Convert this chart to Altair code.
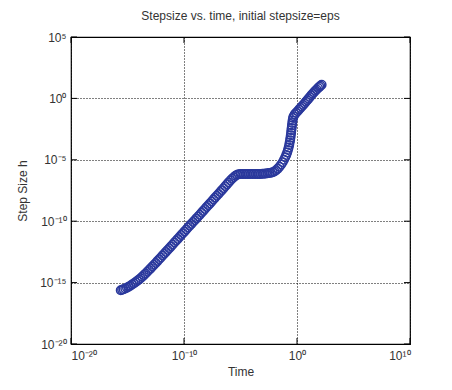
import altair as alt
import pandas as pd

time_exp = [
    -15.6, -15.48, -15.35, -15.2, -15.05, -14.9, -14.75, -14.6, -14.45, -14.3,
    -14.15, -14.0, -13.85, -13.7, -13.55, -13.4, -13.25, -13.1, -12.95, -12.8,
    -12.65, -12.5, -12.35, -12.2, -12.05, -11.9, -11.75, -11.6, -11.45, -11.3,
    -11.15, -11.0, -10.85, -10.7, -10.55, -10.4, -10.25, -10.1, -9.95, -9.8,
    -9.65, -9.5, -9.35, -9.2, -9.05, -8.9, -8.75, -8.6, -8.45, -8.3,
    -8.15, -8.0, -7.85, -7.7, -7.55, -7.4, -7.25, -7.1, -6.95, -6.8,
    -6.65, -6.5, -6.35, -6.2, -6.05, -5.9, -5.75, -5.6, -5.45, -5.3,
    -5.15, -5.0, -4.85, -4.7, -4.55, -4.4, -4.25, -4.1, -3.95, -3.8,
    -3.65, -3.5, -3.35, -3.2, -3.05, -2.9, -2.75, -2.6, -2.45, -2.3,
    -2.15, -2.0, -1.85, -1.7, -1.55, -1.4, -1.27, -1.15, -1.04, -0.95,
    -0.87, -0.8, -0.74, -0.69, -0.65, -0.61, -0.58, -0.55, -0.52, -0.5,
    -0.47, -0.45, -0.42, -0.39, -0.35, -0.3, -0.2, -0.08, 0.05, 0.18,
    0.3, 0.42, 0.54, 0.66, 0.78, 0.9, 1.02, 1.14, 1.26, 1.38,
    1.5, 1.62, 1.74, 1.86, 1.98, 2.08, 2.18,
]
step_exp = [
    -15.62, -15.58, -15.54, -15.48, -15.41, -15.33, -15.25, -15.16, -15.07, -14.97,
    -14.87, -14.76, -14.64, -14.52, -14.39, -14.26, -14.12, -13.98, -13.84, -13.69,
    -13.55, -13.4, -13.25, -13.1, -12.95, -12.8, -12.65, -12.5, -12.35, -12.2,
    -12.05, -11.9, -11.74, -11.59, -11.44, -11.28, -11.13, -10.98, -10.83, -10.68,
    -10.52, -10.37, -10.22, -10.07, -9.92, -9.77, -9.62, -9.47, -9.31, -9.16,
    -9.0, -8.85, -8.7, -8.55, -8.4, -8.24, -8.08, -7.93, -7.78, -7.62,
    -7.47, -7.31, -7.15, -7.0, -6.84, -6.69, -6.55, -6.42, -6.3, -6.22,
    -6.18, -6.16, -6.15, -6.15, -6.15, -6.15, -6.15, -6.15, -6.15, -6.15,
    -6.15, -6.15, -6.15, -6.15, -6.14, -6.13, -6.12, -6.1, -6.08, -6.05,
    -6.01, -5.96, -5.85, -5.72, -5.57, -5.39, -5.2, -5.0, -4.8, -4.6,
    -4.4, -4.2, -4.0, -3.8, -3.6, -3.4, -3.2, -3.0, -2.8, -2.6,
    -2.4, -2.2, -2.0, -1.8, -1.6, -1.45, -1.3, -1.17, -1.04, -0.91,
    -0.78, -0.66, -0.54, -0.41, -0.28, -0.15, -0.02, 0.12, 0.25, 0.38,
    0.5, 0.62, 0.73, 0.84, 0.94, 1.03, 1.11,
]

x_ticks = [1e-20, 1e-10, 1e0, 1e10]
x_tick_labels = ["10⁻²⁰", "10⁻¹⁰", "10⁰", "10¹⁰"]
y_ticks = [1e-20, 1e-15, 1e-10, 1e-5, 1e0, 1e5]
y_tick_labels = ["10⁻²⁰", "10⁻¹⁵", "10⁻¹⁰", "10⁻⁵", "10⁰", "10⁵"]

W, H = 339, 307
TICK = 6

df = pd.DataFrame({
    "Time": [10.0 ** e for e in time_exp],
    "Step": [10.0 ** e for e in step_exp],
})
xt = pd.DataFrame({"Time": x_ticks})
yt = pd.DataFrame({"Step": y_ticks})


def label_expr(exps, labels):
    expr = "''"
    for e, lab in zip(exps, labels):
        expr = f"(round(log(datum.value)/LN10) == {e}) ? '{lab}' : " + expr
    return expr


x_expr = label_expr([-20, -10, 0, 10], x_tick_labels)
y_expr = label_expr([-20, -15, -10, -5, 0, 5], y_tick_labels)

FONT = "Liberation Sans"
TXT = "#333333"

x_scale = alt.Scale(type="log", domain=[1e-20, 1e10], nice=False)
y_scale = alt.Scale(type="log", domain=[1e-20, 1e5], nice=False)

points = alt.Chart(df).mark_point(
    shape="circle", filled=False, size=72, strokeWidth=1.5, color="#2a389c", opacity=1
).encode(
    x=alt.X("Time:Q", scale=x_scale,
            axis=alt.Axis(values=x_ticks, labelExpr=x_expr, title="Time",
                          grid=True, gridDash=[1, 2], gridColor="black", gridOpacity=1,
                          domain=False, ticks=False, labelPadding=6,
                          labelFont=FONT, labelFontSize=12, labelColor=TXT,
                          titleFont=FONT, titleFontSize=12, titleFontWeight="normal",
                          titleColor=TXT, titlePadding=5)),
    y=alt.Y("Step:Q", scale=y_scale,
            axis=alt.Axis(values=y_ticks, labelExpr=y_expr, title="Step Size h",
                          grid=True, gridDash=[1, 2], gridColor="black", gridOpacity=1,
                          domain=False, ticks=False, labelPadding=5,
                          labelFont=FONT, labelFontSize=12, labelColor=TXT,
                          titleFont=FONT, titleFontSize=12, titleFontWeight="normal",
                          titleColor=TXT, titlePadding=10)),
)

tick_style = dict(color="black", strokeWidth=1)
x_bottom = alt.Chart(xt).mark_rule(**tick_style).encode(
    x=alt.X("Time:Q", scale=x_scale), y=alt.value(H), y2=alt.value(H - TICK))
x_top = alt.Chart(xt).mark_rule(**tick_style).encode(
    x=alt.X("Time:Q", scale=x_scale), y=alt.value(0), y2=alt.value(TICK))
y_left = alt.Chart(yt).mark_rule(**tick_style).encode(
    y=alt.Y("Step:Q", scale=y_scale), x=alt.value(0), x2=alt.value(TICK))
y_right = alt.Chart(yt).mark_rule(**tick_style).encode(
    y=alt.Y("Step:Q", scale=y_scale), x=alt.value(W), x2=alt.value(W - TICK))

chart = alt.layer(points, x_bottom, x_top, y_left, y_right).properties(
    width=W, height=H,
    title=alt.TitleParams("Stepsize vs. time, initial stepsize=eps",
                          font=FONT, fontSize=12, fontWeight="normal", color=TXT,
                          offset=8),
    autosize=alt.AutoSizeParams(type="none"),
    padding={"left": 63, "top": 29, "right": 34, "bottom": 38},
).configure_view(stroke="black", strokeWidth=1.2)

chart.save("out.html", embed_options={"renderer": "svg", "actions": False})
